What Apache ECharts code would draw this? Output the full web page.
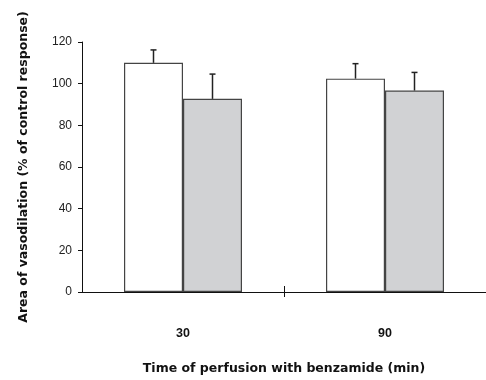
<!DOCTYPE html>
<html>
<head>
<meta charset="utf-8">
<script src="https://cdn.jsdelivr.net/npm/echarts@6/dist/echarts.min.js"></script>
<style>
html,body{margin:0;padding:0;background:#fff;}
#chart{width:486px;height:380px;}
</style>
</head>
<body>
<div id="chart"></div>
<script>
// 数据
var categories = ['30', '90'];
var controlValues = [110, 102.4];   // 白色柱
var benzValues = [92.7, 96.7];      // 灰色柱
var controlErr = [6.2, 7.2];        // 误差（只画上方）
var benzErr = [11.9, 8.7];

var fontName = 'Liberation Sans, Arial, sans-serif';
var titleFont = 'DejaVu Sans, sans-serif';
var barWidth = 59;

var chart = echarts.init(document.getElementById('chart'));

//误差线数据: [类目序号, 值, 误差]
function errData(values, errs){
	var arr = [];
	for (var i = 0; i < values.length; i++){
		arr.push([i, values[i], errs[i]]);
	}
	return arr;
}
function errRender(offset){
	return function(params, api){
		var x = api.value(0), v = api.value(1), e = api.value(2);
		var base = api.coord([x, v]);
		var top = api.coord([x, v + e]);
		var cx = base[0] + offset;
		var style = {stroke: '#222', lineWidth: 1.5};
		return {
			type: 'group',
			children: [
				{type: 'line', shape: {x1: cx, y1: base[1], x2: cx, y2: top[1]}, style: style},
				{type: 'line', shape: {x1: cx - 3, y1: top[1], x2: cx + 3, y2: top[1]}, style: style}
			]
		};
	};
}

//只在两组中间画一个穿过轴线的刻度
function sepAxis(inside, len){
	return {
		type: 'value',
		min: 0,
		max: categories.length,
		position: 'bottom',
		axisLine: {show: false},
		splitLine: {show: false},
		axisLabel: {show: false},
		axisTick: {show: true, inside: inside, length: len, customValues: [1], lineStyle: {color: '#111'}}
	};
}

var option = {
	animation: false,
	textStyle: {fontFamily: fontName},
	grid: {left: 82, right: -6, top: 42, bottom: 87},
	xAxis: [{
		type: 'category',
		data: categories,
		position: 'bottom',
		name: 'Time of perfusion with benzamide (min)',
		nameLocation: 'middle',
		nameGap: 70,
		nameTextStyle: {fontSize: 12.5, fontWeight: 'bold', color: '#111', fontFamily: titleFont},
		axisLine: {lineStyle: {color: '#111', width: 1}},
		axisTick: {show: false},
		axisLabel: {margin: 35, fontSize: 12.5, fontWeight: 'bold', color: '#111', fontFamily: fontName}
	}, sepAxis(false, 5), sepAxis(true, 6)],
	yAxis: {
		type: 'value',
		min: 0,
		max: 120,
		interval: 20,
		name: 'Area of vasodilation (% of control response)',
		nameLocation: 'middle',
		nameGap: 52,
		nameTextStyle: {fontSize: 12.5, fontWeight: 'bold', color: '#111', fontFamily: titleFont},
		axisLine: {show: true, lineStyle: {color: '#111', width: 1}},
		axisTick: {show: true, length: 4, lineStyle: {color: '#111'}},
		axisLabel: {margin: 10, fontSize: 12, color: '#222', fontFamily: fontName},
		splitLine: {show: false}
	},
	series: [{
		type: 'bar',
		data: controlValues,
		barWidth: barWidth,
		barGap: 0,
		itemStyle: {color: '#ffffff', borderColor: '#444', borderWidth: 1.2}
	}, {
		type: 'bar',
		data: benzValues,
		barWidth: barWidth,
		barGap: 0,
		itemStyle: {color: '#d1d2d4', borderColor: '#444', borderWidth: 1.2}
	}, {
		type: 'custom',
		data: errData(controlValues, controlErr),
		renderItem: errRender(-barWidth / 2),
		z: 5
	}, {
		type: 'custom',
		data: errData(benzValues, benzErr),
		renderItem: errRender(barWidth / 2),
		z: 5
	}]
};
chart.setOption(option);
</script>
</body>
</html>
